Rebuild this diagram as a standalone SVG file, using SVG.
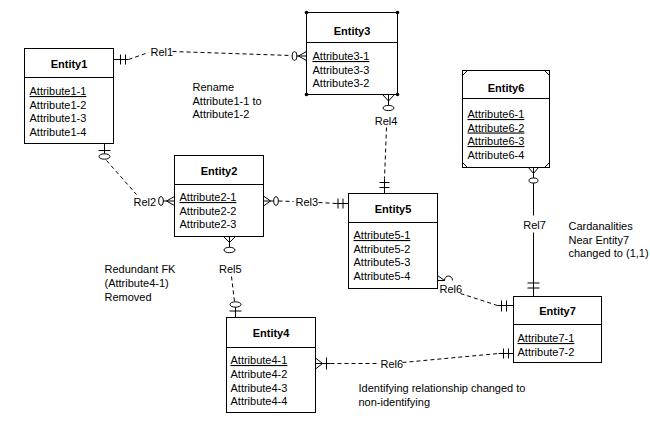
<svg xmlns="http://www.w3.org/2000/svg" width="650" height="435" viewBox="0 0 650 435">
<style>
.box{fill:#fff;stroke:#000;stroke-width:1}
.sep{stroke:#000;stroke-width:1}
.t{font-family:"Liberation Sans",Arial,sans-serif;font-size:11px;fill:#000}
.ttl{font-weight:bold;text-anchor:middle}
.pk{text-decoration:underline}
.ln{stroke:#000;stroke-width:1;fill:none}
.d{stroke-dasharray:4,3}
.e{fill:#fff;stroke:#000;stroke-width:1}
.mid{text-anchor:middle}
</style>
<rect width="650" height="435" fill="#fff"/>
<g transform="translate(0.5,0.5)">
<g id="connectors">
<!-- Rel1 -->
<path class="ln" d="M113,59H128M120,54V64M125,54V64"/>
<path class="ln d" d="M128,59L148,52M172,51L291,55"/>
<text class="t" x="150" y="55.5">Rel1</text>
<ellipse class="e" cx="294" cy="55.5" rx="2.3" ry="4.3"/>
<path class="ln" d="M296.3,55.5H306M298,55.5L306,51M298,55.5L306,60"/>
<!-- Rel4 -->
<path class="ln" d="M382,94L388,100.5L394,94M388,94V105"/>
<ellipse class="e" cx="388" cy="107.5" rx="5.5" ry="2.6"/>
<text class="t mid" x="385.5" y="124">Rel4</text>
<path class="ln d" d="M386,127L384,178"/>
<path class="ln" d="M384,178V193M379,182H389M379,187H389"/>
<!-- Rel2 -->
<path class="ln" d="M104,143V153.3M98,150H110"/>
<ellipse class="e" cx="104" cy="156" rx="5.5" ry="2.7"/>
<path class="ln d" d="M106,160L136,194"/>
<text class="t" x="133" y="205">Rel2</text>
<ellipse class="e" cx="160.5" cy="200.5" rx="2.3" ry="4.3"/>
<path class="ln" d="M162.8,200.5H174M166,200.5L174,196M166,200.5L174,205"/>
<!-- Rel3 -->
<path class="ln" d="M263,195.5L270,200.5L263,205.5M263,200.5H273.2"/>
<ellipse class="e" cx="275.5" cy="200.5" rx="2.3" ry="4.3"/>
<path class="ln d" d="M278,200.5L293,201M318,202L336,203"/>
<text class="t" x="295" y="205">Rel3</text>
<path class="ln" d="M336,203H348M337.5,198V208M342.5,198V208"/>
<!-- Rel5 -->
<path class="ln" d="M223,236L229,242L235,236M229,236V246.8"/>
<ellipse class="e" cx="229" cy="249.5" rx="5.5" ry="2.7"/>
<text class="t" x="218.5" y="272">Rel5</text>
<path class="ln d" d="M231,276L234,301"/>
<ellipse class="e" cx="235" cy="304" rx="5.5" ry="2.7"/>
<path class="ln" d="M235,306.7V317M229,310.5H241"/>
<!-- Rel6 (Entity4 - Entity7) -->
<path class="ln" d="M315,357.5L322,363L315,368.5M315,363H330M326,357V369"/>
<path class="ln d" d="M330,363H378M402,362L498,353"/>
<text class="t" x="380" y="367">Rel6</text>
<path class="ln" d="M498,353H513M503,348V358M508,348V358"/>
<!-- Rel6 (Entity5 - Entity7) -->
<path class="ln" d="M437,275L444,280H437M444,280A4,4.5 0 0 1 452,280"/>
<text class="t" x="439" y="292">Rel6</text>
<path class="ln d" d="M460,293L497,305"/>
<path class="ln" d="M497,305H513M501,300V311M506,300V311"/>
<!-- Rel7 -->
<path class="ln" d="M528,167L533,173L538,167M533,167V177.5"/>
<ellipse class="e" cx="533" cy="180" rx="4.5" ry="2.5"/>
<path class="ln" d="M533,182.5V215M533,232V296M527,282.5H539M527,287.5H539"/>
<text class="t mid" x="534" y="228">Rel7</text>
</g>
<g id="Entity1">
<rect class="box" x="24" y="48" width="89" height="95"/>
<line class="sep" x1="24" y1="77" x2="113" y2="77"/>
<text class="t ttl" x="68.5" y="67">Entity1</text>
<text class="t pk" x="29" y="94.5">Attribute1-1</text>
<text class="t" x="29" y="108">Attribute1-2</text>
<text class="t" x="29" y="121.5">Attribute1-3</text>
<text class="t" x="29" y="135">Attribute1-4</text>
</g>
<g id="Entity3">
<rect class="box" x="306" y="12" width="91" height="82"/>
<line class="sep" x1="306" y1="42" x2="397" y2="42"/>
<circle cx="306" cy="12" r="1.8"/><circle cx="397" cy="12" r="1.8"/>
<circle cx="306" cy="94" r="1.8"/><circle cx="397" cy="94" r="1.8"/>
<text class="t ttl" x="351.5" y="34">Entity3</text>
<text class="t pk" x="312" y="59.5">Attribute3-1</text>
<text class="t" x="312" y="73">Attribute3-3</text>
<text class="t" x="312" y="86.5">Attribute3-2</text>
</g>
<g id="Entity2">
<rect class="box" x="174" y="155" width="89" height="81"/>
<line class="sep" x1="174" y1="184" x2="263" y2="184"/>
<text class="t ttl" x="218.5" y="174">Entity2</text>
<text class="t pk" x="179" y="200.5">Attribute2-1</text>
<text class="t" x="179" y="214">Attribute2-2</text>
<text class="t" x="179" y="227.5">Attribute2-3</text>
</g>
<g id="Entity5">
<rect class="box" x="348" y="193" width="89" height="95"/>
<line class="sep" x1="348" y1="222" x2="437" y2="222"/>
<text class="t ttl" x="392.5" y="212">Entity5</text>
<text class="t pk" x="353" y="238.5">Attribute5-1</text>
<text class="t" x="353" y="252">Attribute5-2</text>
<text class="t" x="353" y="265.5">Attribute5-3</text>
<text class="t" x="353" y="279.5">Attribute5-4</text>
</g>
<g id="Entity6">
<rect class="box" x="462" y="70" width="87" height="97"/>
<line class="sep" x1="462" y1="98" x2="549" y2="98"/>
<path class="ln" d="M462,75L467,70M544,70L549,75M462,162L467,167M544,167L549,162"/>
<text class="t ttl" x="505.5" y="91">Entity6</text>
<text class="t pk" x="467" y="117.5">Attribute6-1</text>
<text class="t pk" x="467" y="131">Attribute6-2</text>
<text class="t pk" x="467" y="144.5">Attribute6-3</text>
<text class="t" x="467" y="158">Attribute6-4</text>
</g>
<g id="Entity4">
<rect class="box" x="226" y="317" width="89" height="95"/>
<line class="sep" x1="226" y1="347" x2="315" y2="347"/>
<text class="t ttl" x="270.5" y="336">Entity4</text>
<text class="t pk" x="230" y="363.5">Attribute4-1</text>
<text class="t" x="230" y="377.3">Attribute4-2</text>
<text class="t" x="230" y="391">Attribute4-3</text>
<text class="t" x="230" y="404.7">Attribute4-4</text>
</g>
<g id="Entity7">
<rect class="box" x="513" y="296" width="88" height="66"/>
<line class="sep" x1="513" y1="324" x2="601" y2="324"/>
<text class="t ttl" x="557" y="314">Entity7</text>
<text class="t pk" x="517" y="341.5">Attribute7-1</text>
<text class="t" x="517" y="355">Attribute7-2</text>
</g>
<g id="notes">
<text class="t" x="192" y="90">Rename</text>
<text class="t" x="192" y="104">Attribute1-1 to</text>
<text class="t" x="192" y="117.5">Attribute1-2</text>
<text class="t" x="568" y="229">Cardanalities</text>
<text class="t" x="568" y="243">Near Entity7</text>
<text class="t" x="568" y="256.5">changed to (1,1)</text>
<text class="t" x="104" y="272.5">Redundant FK</text>
<text class="t" x="104" y="286.5">(Attribute4-1)</text>
<text class="t" x="104" y="300">Removed</text>
<text class="t" x="358" y="391">Identifying relationship changed to</text>
<text class="t" x="358" y="405">non-identifying</text>
</g>
</g>
</svg>
